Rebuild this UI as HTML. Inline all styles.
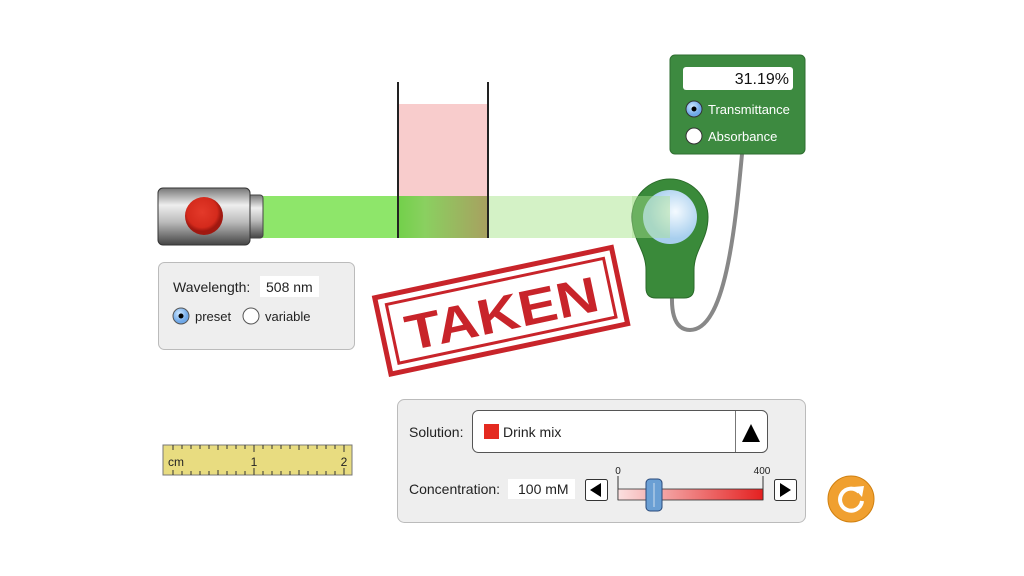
<!DOCTYPE html>
<html><head><style>body{margin:0;background:#fff}svg{display:block}text{font-family:"Liberation Sans",sans-serif}</style></head><body>
<svg width="1024" height="576" viewBox="0 0 1024 576">
<defs>
<linearGradient id="metal" x1="0" y1="0" x2="0" y2="1"><stop offset="0" stop-color="#777"/><stop offset=".3" stop-color="#eee"/><stop offset=".6" stop-color="#bbb"/><stop offset="1" stop-color="#444"/></linearGradient>
<radialGradient id="red" cx=".45" cy=".4"><stop offset="0" stop-color="#e43a2a"/><stop offset=".8" stop-color="#d42a1c"/><stop offset="1" stop-color="#a01810"/></radialGradient>
<linearGradient id="cuv" x1="0" x2="1"><stop offset="0" stop-color="#72d04a"/><stop offset=".3" stop-color="#8ad060"/><stop offset="1" stop-color="#a8a060"/></linearGradient>
<linearGradient id="slid" x1="0" x2="1"><stop offset="0" stop-color="#fbe0e0"/><stop offset="1" stop-color="#e42020"/></linearGradient>
<radialGradient id="lens" cx=".6" cy=".4"><stop offset="0" stop-color="#f4faff"/><stop offset="1" stop-color="#a8cfee"/></radialGradient>
<radialGradient id="rad" cx=".4" cy=".35"><stop offset="0" stop-color="#cfe8ff"/><stop offset="1" stop-color="#6fa8e8"/></radialGradient>
</defs>
<rect x="398" y="104" width="90" height="134" fill="#f8cccc"/>
<rect x="262" y="196" width="136" height="42" fill="#8ee66a"/>
<rect x="398" y="196" width="90" height="42" fill="url(#cuv)"/>
<rect x="488" y="196" width="182" height="42" fill="#d4f2c6"/>
<line x1="398" y1="82" x2="398" y2="238" stroke="#222" stroke-width="2"/>
<line x1="488" y1="82" x2="488" y2="238" stroke="#222" stroke-width="2"/>
<rect x="246" y="195" width="17" height="43" rx="3" fill="url(#metal)" stroke="#444"/>
<rect x="158" y="188" width="92" height="57" rx="5" fill="url(#metal)" stroke="#333"/>
<circle cx="204" cy="216" r="19" fill="url(#red)"/>
<rect x="158.5" y="262.5" width="196" height="87" rx="6" fill="#eee" stroke="#bbb"/>
<text x="173" y="292" font-size="14" fill="#222">Wavelength:</text>
<rect x="260" y="276" width="59" height="21" fill="#fff"/>
<text x="266" y="292" font-size="14" fill="#222">508 nm</text>
<circle cx="181" cy="316" r="8" fill="url(#rad)" stroke="#555"/><circle cx="181" cy="316" r="2.5" fill="#000"/>
<text x="195" y="321" font-size="13" fill="#222">preset</text>
<circle cx="251" cy="316" r="8" fill="#fff" stroke="#555"/>
<text x="265" y="321" font-size="13" fill="#222">variable</text>
<g transform="rotate(-12 500 310)" fill="none" stroke="#c8242a">
<rect x="380" y="272" width="242" height="78" stroke-width="5"/>
<rect x="390" y="281" width="222" height="60" stroke-width="3"/>
<text x="501" y="331" font-size="50" font-weight="bold" fill="#c8242a" stroke="none" text-anchor="middle" textLength="196" lengthAdjust="spacingAndGlyphs">TAKEN</text>
</g>
<path d="M742 154 C735 230 725 330 690 330 C670 330 672 300 672 296" fill="none" stroke="#888" stroke-width="4"/>
<path d="M632 217 A38 38 0 0 1 708 217 C708 240 694 250 694 270 L694 288 Q694 298 684 298 L656 298 Q646 298 646 288 L646 270 C646 250 632 240 632 217Z" fill="#3a8a3a" stroke="#2a6a2a"/>
<circle cx="670" cy="217" r="27" fill="url(#lens)"/>
<rect x="632" y="196" width="38" height="42" fill="#a8e090" opacity=".45"/>
<rect x="670" y="55" width="135" height="99" rx="5" fill="#3d8a40" stroke="#2e6e30"/>
<rect x="683" y="67" width="110" height="23" rx="3" fill="#fff"/>
<text x="789" y="84" font-size="16" fill="#111" text-anchor="end">31.19%</text>
<circle cx="694" cy="109" r="8" fill="url(#rad)" stroke="#333"/><circle cx="694" cy="109" r="2.5" fill="#000"/>
<text x="708" y="114" font-size="13" fill="#fff">Transmittance</text>
<circle cx="694" cy="136" r="8" fill="#fff" stroke="#333"/>
<text x="708" y="141" font-size="13" fill="#fff">Absorbance</text>
<rect x="163" y="445" width="189" height="30" fill="#e8dc80" stroke="#777"/>
<g stroke="#333" stroke-width="1">
<path d="M173 445v5M182 445v4M191 445v4M200 445v4M209 445v4M218 445v5M227 445v4M236 445v4M245 445v4M254 445v7M263 445v4M272 445v4M281 445v4M290 445v4M299 445v5M308 445v4M317 445v4M326 445v4M335 445v4M344 445v7"/>
<path d="M173 475v-5M182 475v-4M191 475v-4M200 475v-4M209 475v-4M218 475v-5M227 475v-4M236 475v-4M245 475v-4M254 475v-7M263 475v-4M272 475v-4M281 475v-4M290 475v-4M299 475v-5M308 475v-4M317 475v-4M326 475v-4M335 475v-4M344 475v-7"/>
</g>
<text x="168" y="466" font-size="12" fill="#222">cm</text>
<text x="254" y="466" font-size="12" fill="#222" text-anchor="middle">1</text>
<text x="344" y="466" font-size="12" fill="#222" text-anchor="middle">2</text>
<rect x="397.5" y="399.5" width="408" height="123" rx="7" fill="#eee" stroke="#bbb"/>
<text x="409" y="437" font-size="14" fill="#222">Solution:</text>
<rect x="472.5" y="410.5" width="295" height="42" rx="6" fill="#fff" stroke="#555"/>
<line x1="735.5" y1="411" x2="735.5" y2="452" stroke="#777"/>
<path d="M742 442 L751 424 L760 442Z" fill="#000"/>
<rect x="484" y="424" width="15" height="15" fill="#e42a20"/>
<text x="503" y="437" font-size="14" fill="#222">Drink mix</text>
<text x="409" y="494" font-size="14" fill="#222">Concentration:</text>
<rect x="508" y="479" width="67" height="20" fill="#fff"/>
<text x="518" y="494" font-size="14" fill="#222">100 mM</text>
<rect x="585.5" y="479.5" width="22" height="21" rx="2" fill="#fff" stroke="#333"/>
<path d="M601 483 L590 490 L601 497Z" fill="#000"/>
<rect x="774.5" y="479.5" width="22" height="21" rx="2" fill="#fff" stroke="#333"/>
<path d="M780 483 L791 490 L780 497Z" fill="#000"/>
<text x="618" y="474" font-size="10" fill="#222" text-anchor="middle">0</text>
<text x="762" y="474" font-size="10" fill="#222" text-anchor="middle">400</text>
<line x1="618" y1="476" x2="618" y2="500" stroke="#333"/>
<line x1="763" y1="476" x2="763" y2="500" stroke="#333"/>
<rect x="618" y="489" width="145" height="11" fill="url(#slid)" stroke="#333" stroke-width=".8"/>
<rect x="646" y="479" width="16" height="32" rx="4" fill="#6a9fd4" stroke="#2a4a7a"/>
<line x1="654" y1="483" x2="654" y2="507" stroke="#cde"/>
<circle cx="851" cy="499" r="23" fill="#f0a030" stroke="#d08010"/>
<path d="M859 492 A11 11 0 1 0 862 501" fill="none" stroke="#fff" stroke-width="4"/>
<path d="M853 487 L864 486 L862 497Z" fill="#fff"/>
</svg>
</body></html>
